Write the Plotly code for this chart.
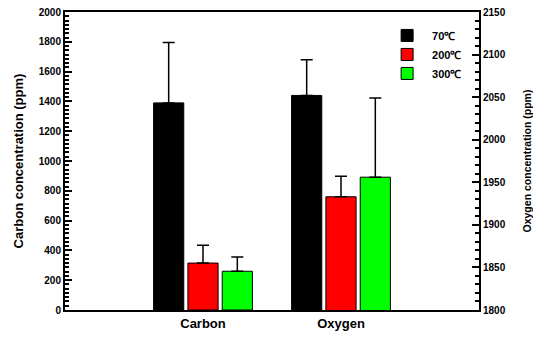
import plotly.graph_objects as go

categories = ["Carbon", "Oxygen"]
temps = ["70℃", "200℃", "300℃"]
colors = ["#000000", "#ff0000", "#00ff00"]
carbon_vals = [1390, 315, 260]
carbon_err = [405, 120, 95]
oxygen_vals = [2052, 1933, 1956]
oxygen_err = [42, 24, 93]

FONT = "Liberation Sans, Arial, sans-serif"

fig = go.Figure()
for i in range(3):
    fig.add_trace(go.Bar(
        x=[categories[0]], y=[carbon_vals[i]], name=temps[i],
        legendgroup=temps[i], yaxis="y",
        marker=dict(color=colors[i], line=dict(color="black", width=1)),
        error_y=dict(type="data", array=[carbon_err[i]], arrayminus=[0],
                     symmetric=False, color="black", thickness=1.5, width=6),
    ))
for i in range(3):
    fig.add_trace(go.Bar(
        x=[categories[1]], y=[oxygen_vals[i]], name=temps[i],
        legendgroup=temps[i], yaxis="y2", showlegend=False,
        marker=dict(color=colors[i], line=dict(color="black", width=1)),
        error_y=dict(type="data", array=[oxygen_err[i]], arrayminus=[0],
                     symmetric=False, color="black", thickness=1.5, width=6),
    ))

fig.update_layout(
    width=533, height=339,
    margin=dict(l=65, r=54, t=12, b=29, autoexpand=False),
    paper_bgcolor="white", plot_bgcolor="white",
    barmode="group", bargap=0.254, bargroupgap=0.12,
    font=dict(family=FONT, color="black", weight="bold"),
    showlegend=True,
    legend=dict(x=0.766, y=0.97, xanchor="left", yanchor="top",
                bgcolor="rgba(0,0,0,0)", font=dict(size=11, weight="bold"),
                tracegroupgap=0, itemwidth=40),
    xaxis=dict(
        type="category", categoryorder="array", categoryarray=categories,
        range=[-1, 2], showline=True, linecolor="black", linewidth=2,
        mirror=True, ticks="", tickfont=dict(size=13, weight="bold"),
        showgrid=False, zeroline=False,
    ),
    yaxis=dict(
        range=[0, 2000], dtick=200, tick0=0, showline=True, linecolor="black",
        linewidth=2, ticks="inside", ticklen=7, tickwidth=2, tickcolor="black",
        minor=dict(ticks="inside", dtick=200 / 7, ticklen=4, tickwidth=1.5, tickcolor="black"),
        showgrid=False, zeroline=False, ticklabeloverflow="allow",
        tickfont=dict(size=10, weight="bold"),
        title=dict(text="Carbon concentration (ppm)", font=dict(size=13, weight="bold"), standoff=12),
    ),
    yaxis2=dict(
        range=[1800, 2150], dtick=50, tick0=1800, overlaying="y", side="right",
        showline=True, linecolor="black", linewidth=2,
        ticks="inside", ticklen=7, tickwidth=2, tickcolor="black",
        minor=dict(ticks="inside", dtick=10, ticklen=4, tickwidth=1.5, tickcolor="black"),
        showgrid=False, zeroline=False, ticklabeloverflow="allow",
        tickfont=dict(size=10, weight="bold"),
        title=dict(text="Oxygen concentration (ppm)", font=dict(size=10.5, weight="bold"), standoff=19),
    ),
)

fig.write_html("out.html", config={"displayModeBar": False},
               post_script="document.body.style.margin='0px';")
